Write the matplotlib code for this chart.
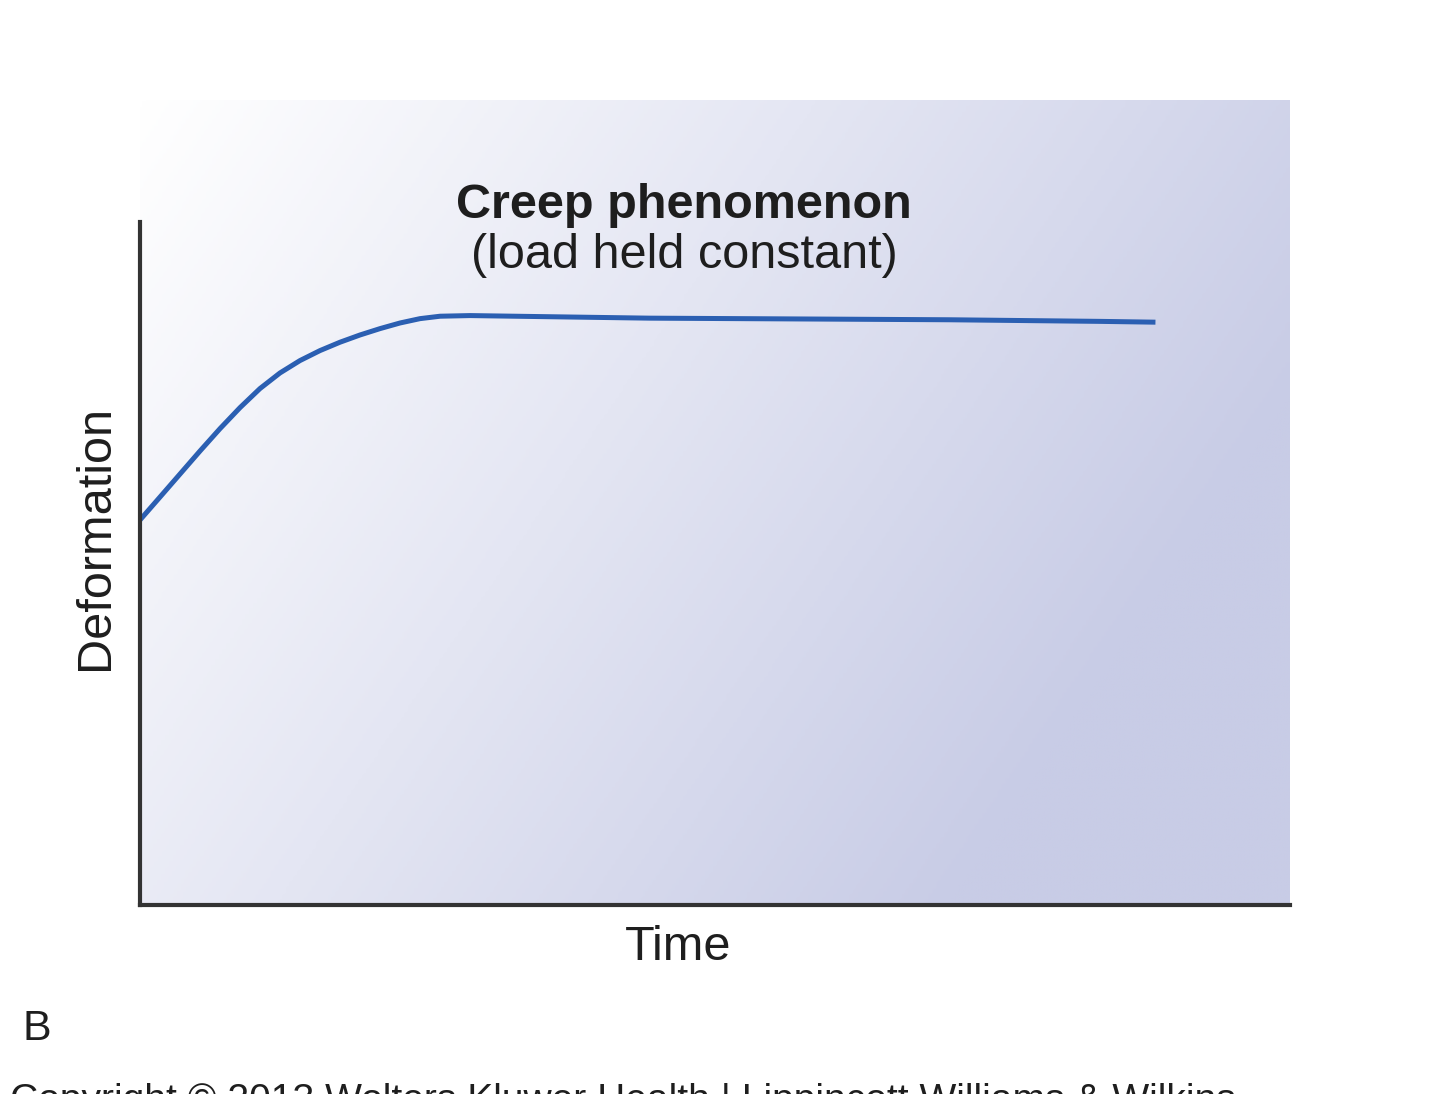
import numpy as np
import matplotlib
matplotlib.use("Agg")
import matplotlib.pyplot as plt
from matplotlib.colors import LinearSegmentedColormap

plt.rcParams['font.family'] = ['Liberation Sans', 'DejaVu Sans']

# Data (arbitrary units)
time = [0, 1.74, 3.48, 5.22, 6.96, 8.70, 10.43, 12.17, 13.91, 15.65, 17.39,
        19.13, 20.87, 22.61, 24.35, 26.09, 28.70, 44.3, 57.4, 70.4, 83.5, 88.3]
deformation = [47.83, 50.68, 53.54, 56.40, 59.18, 61.79, 64.15, 66.09, 67.63,
               68.87, 69.91, 70.81, 71.60, 72.30, 72.84, 73.14, 73.22,
               72.9, 72.8, 72.7, 72.5, 72.4]

title = "Creep phenomenon"
subtitle = "(load held constant)"
xlabel = "Time"
ylabel = "Deformation"
panel = "B"
copyright_txt = "Copyright © 2013 Wolters Kluwer Health | Lippincott Williams & Wilkins"

W, H = 1440, 1094
fig = plt.figure(figsize=(W / 100, H / 100), dpi=100)

def fx(px):
    return px / W

def fy(py):
    return 1 - py / H

left, right, top, bottom = 140, 1290, 100, 905
ax = fig.add_axes([fx(left), fy(bottom), (right - left) / W, (bottom - top) / H])
ax.set_xlim(0, 100)
ax.set_ylim(0, 100)

# gradient background
n = 300
gx, gy = np.meshgrid(np.linspace(0, 1, n), np.linspace(1, 0, n))
t = np.clip(0.85 * gx + 0.4 * (1 - gy), 0, 1)
cmap = LinearSegmentedColormap.from_list("g", ["#ffffff", "#e4e6f3", "#c8cce6"])
ax.imshow(t, extent=[0, 100, 0, 100], cmap=cmap, vmin=0, vmax=1,
          aspect='auto', zorder=0, interpolation='bilinear')

ax.plot(time, deformation, color="#2b5fb2", lw=3.6, solid_capstyle='butt',
        solid_joinstyle='round', zorder=3)

for s in ['top', 'right']:
    ax.spines[s].set_visible(False)
for s in ['left', 'bottom']:
    ax.spines[s].set_color('#333333')
    ax.spines[s].set_linewidth(3.0)
    ax.spines[s].set_zorder(4)
ax.spines['left'].set_bounds(0, (bottom - 222) / (bottom - top) * 100)
ax.set_xticks([])
ax.set_yticks([])

tc = '#1e1e1e'
fig.text(fx(684), fy(206), title, ha='center', va='center', fontsize=35,
         fontweight='bold', color=tc)
fig.text(fx(684), fy(256), subtitle, ha='center', va='center', fontsize=35,
         color=tc)
fig.text(fx(95), fy(538), ylabel, ha='center', va='center', fontsize=35,
         rotation=90, color=tc)
fig.text(fx(678), fy(948), xlabel, ha='center', va='center', fontsize=35,
         color=tc)
fig.text(fx(37), fy(1029), panel, ha='center', va='center', fontsize=31,
         color=tc)
fig.text(fx(10), fy(1083), copyright_txt, ha='left', va='top', fontsize=28.1,
         color=tc)

fig.savefig("out.png", dpi=100, facecolor='white')
